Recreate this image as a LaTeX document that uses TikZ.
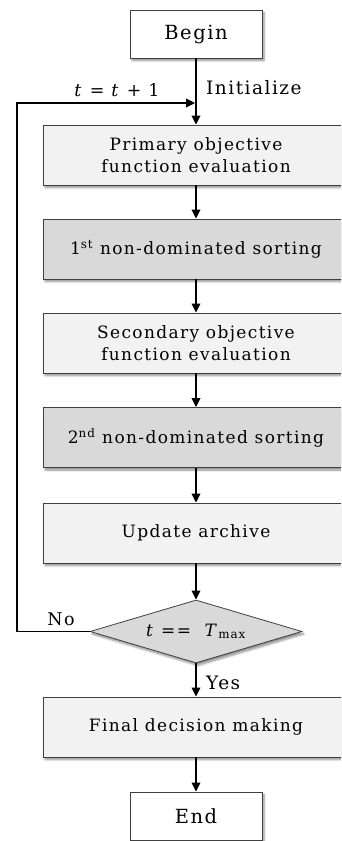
\documentclass[tikz,border=0pt]{standalone}
\usepackage{fontspec}
\setmainfont{DejaVu Serif}[LetterSpace=8]
\usetikzlibrary{shapes.geometric,shadows.blur,arrows.meta}
\definecolor{lightbox}{HTML}{F2F2F2}
\definecolor{darkbox}{HTML}{D9D9D9}
\definecolor{edge}{HTML}{404040}
\begin{document}
\begin{tikzpicture}[x=1pt,y=1pt,
  base/.style={draw=edge, line width=0.8pt, align=center, inner sep=0pt,
    blur shadow={shadow xshift=2pt, shadow yshift=-2.5pt, shadow blur steps=6, shadow opacity=45},
    font=\fontsize{17}{22}\selectfont},
  term/.style={base, fill=white, minimum width=132pt, minimum height=48pt, font=\fontsize{19.5}{22}\selectfont},
  lbox/.style={base, fill=lightbox, minimum width=306pt, minimum height=60pt},
  dbox/.style={base, fill=darkbox, minimum width=306pt, minimum height=60pt},
  decide/.style={base, diamond, fill=darkbox, aspect=3.36, minimum width=212pt, minimum height=63pt},
  flow/.style={line width=1.8pt, -{Triangle[length=9pt,width=8.5pt]}},
  lab/.style={font=\fontsize{18.5}{20}\selectfont, inner sep=0pt}
]
\useasboundingbox (0,0) rectangle (341,-841);
\clip (0,0) rectangle (341,-841);
\node[term] (begin) at (196,-34) {Begin};
\node[lbox] (p1) at (196,-155) {Primary objective\\function evaluation};
\node[dbox] (s1) at (196,-249) {1\textsuperscript{st} non-dominated sorting};
\node[lbox] (p2) at (196,-343) {Secondary objective\\function evaluation};
\node[dbox] (s2) at (196,-437.5) {2\textsuperscript{nd} non-dominated sorting};
\node[lbox] (ua) at (196,-533) {Update archive};
\node[decide] (dia) at (196,-631.5) {\textit{t} ==~ \textit{T}\textsubscript{max}};
\node[lbox] (fd) at (196,-727) {Final decision making};
\node[term] (end) at (196,-816) {End};

\coordinate (join) at (196,-103);
\coordinate (cl) at (17,-631.5);
\coordinate (tl) at (17,-103);

\draw[flow] (begin) -- (p1);
\draw[flow] (p1) -- (s1);
\draw[flow] (s1) -- (p2);
\draw[flow] (p2) -- (s2);
\draw[flow] (s2) -- (ua);
\draw[flow] (ua) -- (dia);
\draw[flow] (dia) -- (fd);
\draw[flow] (fd) -- (end);
\draw[flow, shorten >=0.9pt] (dia.west) -- (cl) -- (tl) -- (join);

\node[lab, font=\fontsize{17.5}{20}\selectfont] (lt) at (117,-90) {\textit{t} = \textit{t} + 1};
\node[lab, anchor=west] (li) at (206,-88) {Initialize};
\node[lab, font=\fontsize{17.5}{20}\selectfont] (lno) at (61,-619) {No};
\node[lab, anchor=west] (lyes) at (206,-683) {Yes};
\end{tikzpicture}
\end{document}
